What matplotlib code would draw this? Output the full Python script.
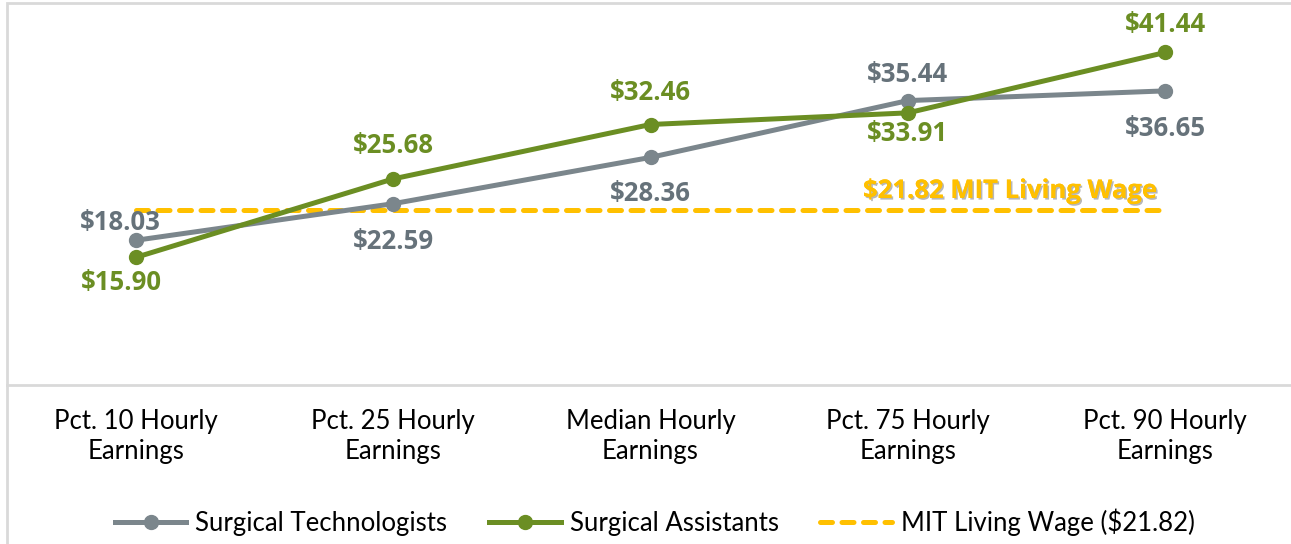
import matplotlib
matplotlib.use("Agg")
import matplotlib.pyplot as plt
import matplotlib.patheffects as pe
from matplotlib.patches import Rectangle

# Data
categories = [
    "Pct. 10 Hourly\nEarnings",
    "Pct. 25 Hourly\nEarnings",
    "Median Hourly\nEarnings",
    "Pct. 75 Hourly\nEarnings",
    "Pct. 90 Hourly\nEarnings",
]
technologists = [18.03, 22.59, 28.36, 35.44, 36.65]
assistants = [15.90, 25.68, 32.46, 33.91, 41.44]
living_wage = [21.82, 21.82, 21.82, 21.82, 21.82]

# label offsets in points (x, y)
tech_offsets = [(-11, 13), (0, -27), (0, -26), (0, 19), (0, -27)]
asst_offsets = [(-10, -18), (0, 24), (0, 23), (0, -15), (0, 20)]

GRAY = "#7b868c"
GRAY_TXT = "#66727a"
GREEN = "#6b8e23"
YELLOW = "#ffc000"
BORDER = "#d9d9d9"

plt.rcParams["font.family"] = ["Lato", "DejaVu Sans"]
BOLD = ["Open Sans", "DejaVu Sans"]

fig = plt.figure(figsize=(12.91, 5.44), dpi=100)
W, H = 1291, 544
ax = fig.add_axes([7 / W, (H - 385) / H, 1287 / W, 382 / H])

x = list(range(len(categories)))

ax.plot(x, living_wage, color=YELLOW, lw=3.6, dashes=(2.4, 1.9),
        dash_capstyle="round", label="MIT Living Wage ($21.82)", zorder=2)
ax.plot(x, technologists, color=GRAY, lw=3.6, marker="o", ms=10,
        label="Surgical Technologists", zorder=3)
ax.plot(x, assistants, color=GREEN, lw=3.6, marker="o", ms=10,
        label="Surgical Assistants", zorder=4)

for xi, v, off in zip(x, technologists, tech_offsets):
    ax.annotate(f"${v:.2f}", (xi, v), xytext=off, textcoords="offset points",
                ha="center", va="center", fontsize=18.5, fontweight="bold",
                family=BOLD, color=GRAY_TXT)
for xi, v, off in zip(x, assistants, asst_offsets):
    ax.annotate(f"${v:.2f}", (xi, v), xytext=off, textcoords="offset points",
                ha="center", va="center", fontsize=18.5, fontweight="bold",
                family=BOLD, color=GREEN)

ax.annotate("$21.82 MIT Living Wage", (x[-1], living_wage[-1]), xytext=(-5, 14),
            textcoords="offset points", ha="right", va="center", fontsize=18.5,
            fontweight="bold", family=BOLD, color=YELLOW,
            path_effects=[pe.withSimplePatchShadow(offset=(1.2, -1.2),
                                                   shadow_rgbFace="#888888",
                                                   alpha=0.6),
                          pe.Normal()])

ax.set_xlim(-0.5, 4.5)
ax.set_ylim(0, 47.6)
ax.set_yticks([])
ax.set_xticks(x)
ax.set_xticklabels(categories, fontsize=18.5, color="black", linespacing=1.25)
ax.tick_params(axis="x", length=0, pad=17)

for s in ["top", "left", "right"]:
    ax.spines[s].set_visible(False)
ax.spines["bottom"].set_color(BORDER)
ax.spines["bottom"].set_linewidth(2)

# chart border
fig.add_artist(Rectangle((7 / W, -0.1), 1.2, (H - 3) / H + 0.1,
                         transform=fig.transFigure, fill=False,
                         edgecolor=BORDER, lw=2))

handles, labels = ax.get_legend_handles_labels()
order = [1, 2, 0]
fig.legend([handles[i] for i in order], [labels[i] for i in order],
           loc="center", bbox_to_anchor=(0.5 + 9 / W, (H - 522) / H), ncol=3,
           frameon=False, fontsize=18.5, handlelength=2.8, columnspacing=1.6,
           handletextpad=0.35)

fig.savefig("out.png", dpi=100)
